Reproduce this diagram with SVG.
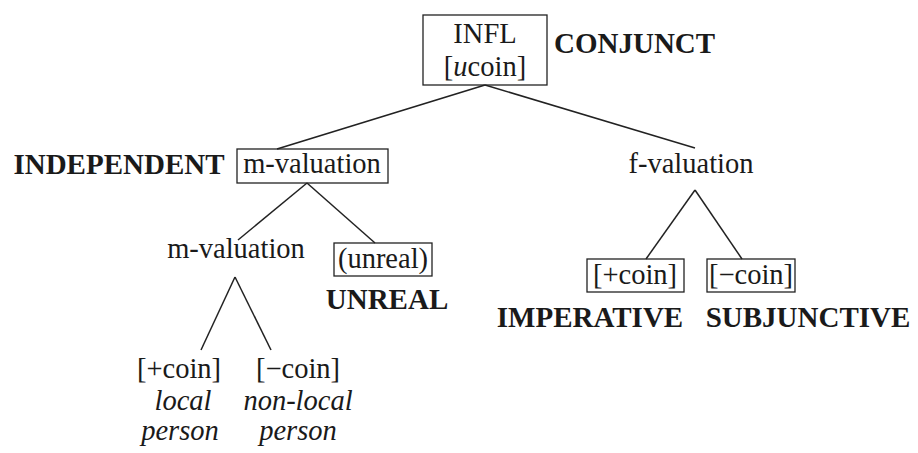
<svg xmlns="http://www.w3.org/2000/svg" width="918" height="453" viewBox="0 0 918 453">
<style>
text{font-family:'Liberation Serif','Times New Roman',serif;font-size:28.5px;fill:#1a1a1a;text-anchor:middle}
.b{font-weight:bold;font-size:29px}
.i{font-style:italic}
.box{fill:none;stroke:#222;stroke-width:1.3}
.edge{stroke:#222;stroke-width:1.5;fill:none}
</style>
<rect width="918" height="453" fill="#fff"/>
<g id="edges">
<line class="edge" x1="485" y1="85" x2="277" y2="149"/>
<line class="edge" x1="485" y1="85" x2="695" y2="148"/>
<line class="edge" x1="307" y1="183" x2="238" y2="240"/>
<line class="edge" x1="307" y1="183" x2="375" y2="243"/>
<line class="edge" x1="235" y1="277" x2="201" y2="350"/>
<line class="edge" x1="235" y1="277" x2="271" y2="350"/>
<line class="edge" x1="695" y1="190" x2="646" y2="259"/>
<line class="edge" x1="695" y1="190" x2="742" y2="259"/>
</g>
<g id="infl">
<rect class="box" x="423" y="15" width="124" height="70"/>
<text x="485" y="43">INFL</text>
<text x="485" y="76">[<tspan class="i">u</tspan>coin]</text>
<text class="b" x="554" y="53" style="text-anchor:start">CONJUNCT</text>
</g>
<g id="mval1">
<rect class="box" x="237" y="149" width="151" height="34"/>
<text x="312" y="173">m-valuation</text>
<text class="b" x="119" y="174">INDEPENDENT</text>
</g>
<g id="fval">
<text x="691" y="173">f-valuation</text>
</g>
<g id="mval2">
<text x="236" y="258">m-valuation</text>
</g>
<g id="unreal">
<rect class="box" x="334" y="243" width="98" height="33"/>
<text x="383" y="268">(unreal)</text>
<text class="b" x="387" y="309">UNREAL</text>
</g>
<g id="pluscoin1">
<text x="179" y="378">[+coin]</text>
<text class="i" x="183" y="410">local</text>
<text class="i" x="180" y="440">person</text>
</g>
<g id="minuscoin1">
<text x="298" y="378">[−coin]</text>
<text class="i" x="298" y="410">non-local</text>
<text class="i" x="298" y="440">person</text>
</g>
<g id="pluscoin2">
<rect class="box" x="587" y="259" width="97" height="33"/>
<text x="635" y="284">[+coin]</text>
<text class="b" x="590" y="327">IMPERATIVE</text>
</g>
<g id="minuscoin2">
<rect class="box" x="707" y="259" width="88" height="33"/>
<text x="751" y="284">[−coin]</text>
<text class="b" x="808" y="327">SUBJUNCTIVE</text>
</g>
</svg>
